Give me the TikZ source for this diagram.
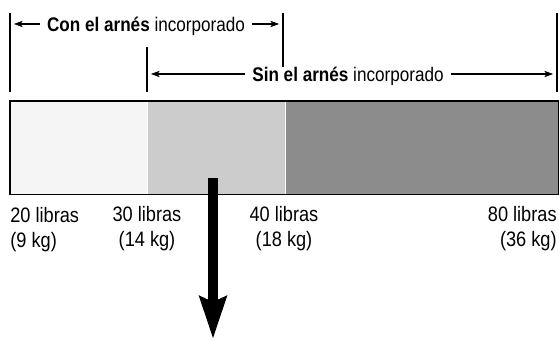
\documentclass[tikz,border=0pt]{standalone}
\usepackage{fontspec}
\setmainfont[FakeStretch=0.87]{Liberation Sans}
\usepackage{tikz}
\usetikzlibrary{arrows.meta, positioning}
\usepackage{xcolor}
\definecolor{barlight}{RGB}{245, 245, 245}
\definecolor{barmid}{RGB}{204, 204, 204}
\definecolor{bardark}{RGB}{140, 140, 140}

\begin{document}
\begin{tikzpicture}[
  x = 0.02cm, y = -0.02cm,
  seg/.style      = {rectangle, draw=none, inner sep=0pt, anchor=north west,
                     minimum height=1.86cm},
  barline/.style  = {line width=0.85pt},
  tick/.style     = {line width=1.1pt},
  hdr/.style      = {inner sep=0pt, text height=8pt, text depth=0pt,
                     font=\fontsize{11.2}{13}\selectfont},
  lbl/.style      = {inner sep=0pt, font=\fontsize{11.9}{14.2}\selectfont},
  brace/.style    = {-{Stealth[length=5pt, width=3.6pt, inset=1.2pt]},
                     line width=0.6pt, shorten <=4pt, shorten >=2.2pt},
  bigarrow/.style = {-{Stealth[length=24pt, width=15pt, inset=3pt]},
                     line width=5.7pt}
]
\useasboundingbox (0,0) rectangle (559,341);

%% Weight bar
\node[seg, fill=barlight, minimum width=2.74cm] (light) at (10,101) {};
\node[seg, fill=barmid, minimum width=2.74cm, right=0pt of light] (mid) {};
\node[seg, fill=bardark, minimum width=5.46cm, right=0pt of mid] (dark) {};
\draw[barline] (light.north west) rectangle (dark.south east);

%% Range ticks
\coordinate (t20top) at (10,13);   \coordinate (t20bot) at (10,92);
\coordinate (t30top) at (147,47);  \coordinate (t30bot) at (147,92);
\coordinate (t40top) at (283,13);  \coordinate (t40bot) at (283,67);
\coordinate (t80top) at (557,13);  \coordinate (t80bot) at (557,92);
\draw[tick] (t20top) -- (t20bot);
\draw[tick] (t30top) -- (t30bot);
\draw[tick] (t40top) -- (t40bot);
\draw[tick] (t80top) -- (t80bot);

%% Range headers
\node[hdr] (con) at (146,24) {\textbf{Con el arnés} incorporado};
\node[hdr] (sin) at (348,74) {\textbf{Sin el arnés} incorporado};

\draw[brace] (con.west) -- (con.west -| t20top);
\draw[brace] (con.east) -- (con.east -| t40top);
\draw[brace] (sin.west) -- (sin.west -| t30top);
\draw[brace] (sin.east) -- (sin.east -| t80top);

%% Weight labels
\node[lbl, anchor=north west, align=left] (w20) at (10,207)
  {20 libras\\(9 kg)};
\node[lbl, anchor=north, align=center] (w30) at (147,206)
  {30 libras\\(14 kg)};
\node[lbl, anchor=north, align=center] (w40) at (284,206)
  {40 libras\\(18 kg)};
\node[lbl, anchor=north east, align=right] (w80) at (557,206)
  {80 libras\\(36 kg)};

%% Down arrow
\coordinate (src) at (213,178);
\coordinate (drop) at (213,339);
\draw[bigarrow] (src) -- (drop);

\end{tikzpicture}
\end{document}
